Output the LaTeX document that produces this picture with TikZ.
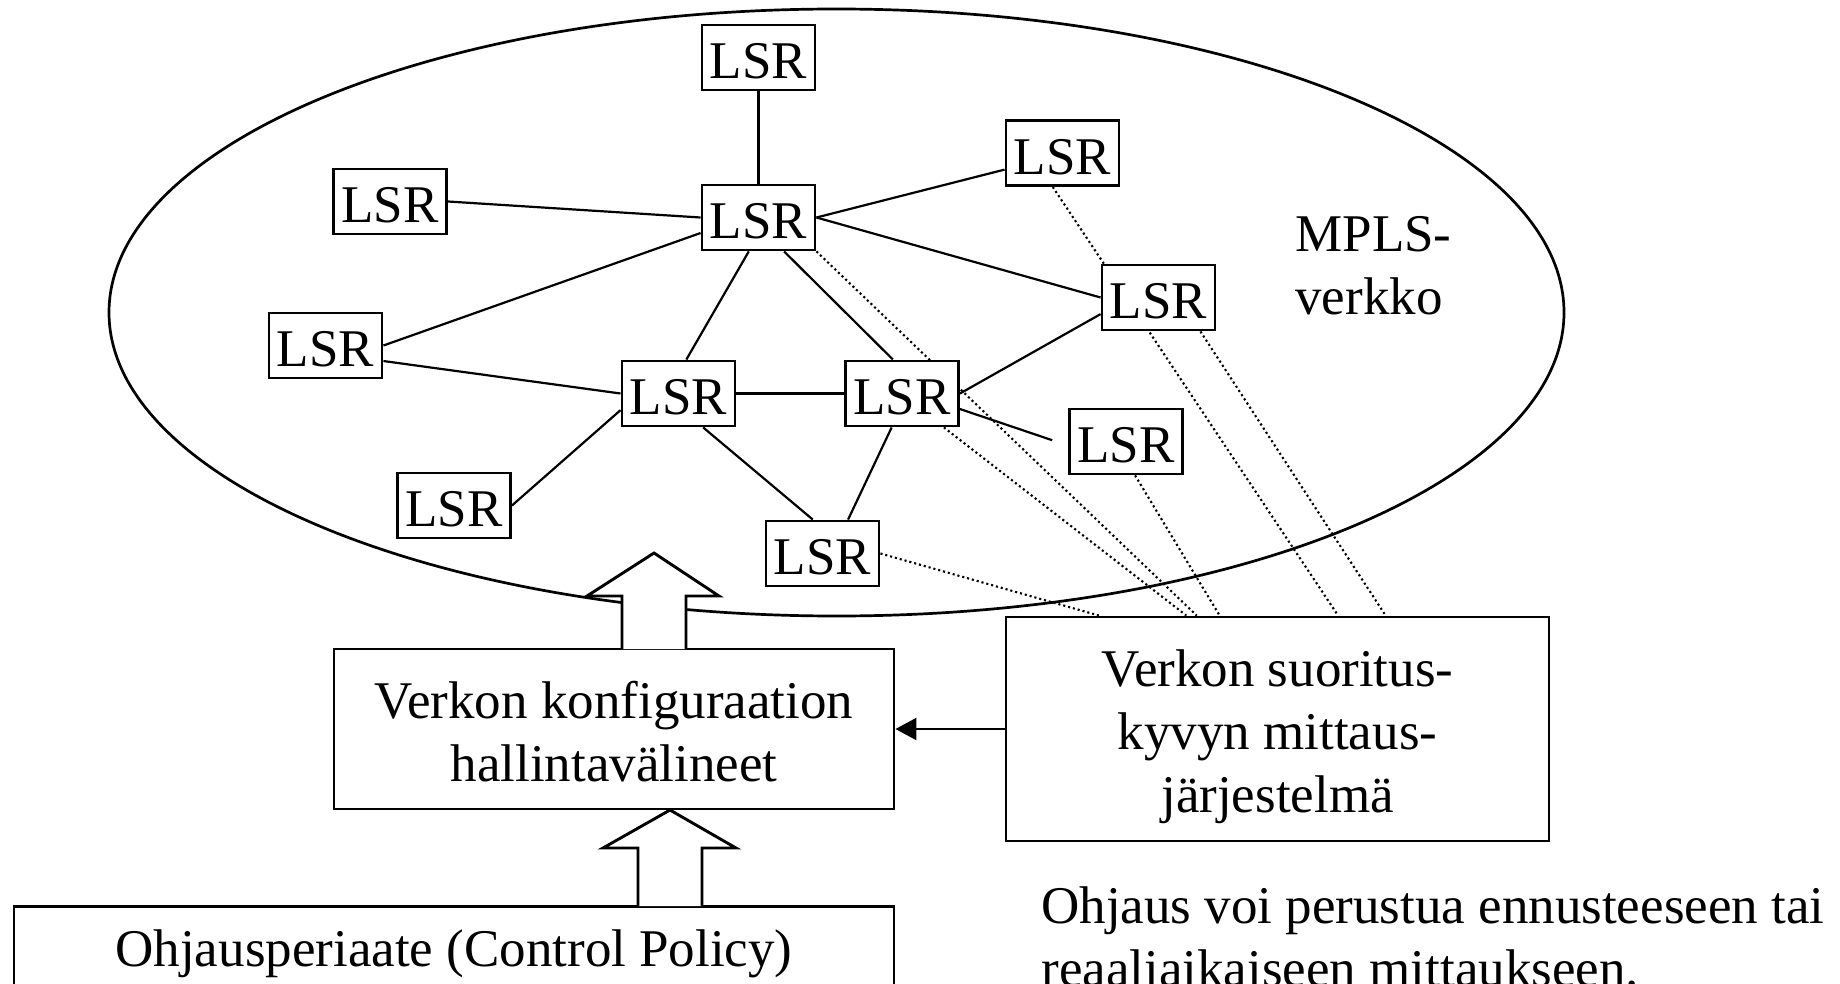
\documentclass[tikz,border=0pt]{standalone}
\usepackage{fontspec}
\setmainfont{Liberation Serif}
\usetikzlibrary{calc,arrows.meta}
\pgfdeclarelayer{background}
\pgfsetlayers{background,main}
% invisible struts that even out the ascent and descent of multi-line labels
\newcommand{\hstrut}{\rule[-0.18em]{0pt}{0.95em}}
\newcommand{\tstrut}{\rule[-0.18em]{0pt}{1.15em}}

\begin{document}
\begin{tikzpicture}[x=0.5pt,y=-0.5pt,
  every node/.style={inner sep=0pt},
  txt/.style={font=\fontsize{26.5pt}{31.5pt}\selectfont},
  lsr/.style={txt,draw,fill=white,line width=1.45pt,minimum width=56.5pt,
    minimum height=32.5pt,text height=21.2pt,text depth=0pt},
  box/.style={txt,draw,fill=white,line width=1.45pt,align=center},
  link/.style={line width=1.1pt},
  probe/.style={line width=1.05pt,dash pattern=on 1.05pt off 1.45pt},
  cloud/.style={line width=1.35pt},
  bigarrow/.style={draw,fill=white,line width=1.45pt,line join=miter},
  feed/.style={line width=1.1pt,-{Triangle[length=10.5pt,width=11pt]}}
]
\useasboundingbox (0,0) rectangle (1840,984);
\clip (0,0) rectangle (1840,984);

% label switch routers
\node[lsr] (rtop) at (758.5,57.5)  {LSR};
\node[lsr] (rhub) at (758.5,217.5) {LSR};
\node[lsr] (rlt)  at (390,201.5)   {LSR};
\node[lsr] (rrt)  at (1062.5,153)  {LSR};
\node[lsr] (rl)   at (325.5,345.5) {LSR};
\node[lsr] (rml)  at (678.5,393.5) {LSR};
\node[lsr] (rmr)  at (902,393.5)   {LSR};
\node[lsr] (rr)   at (1158.5,297.5) {LSR};
\node[lsr] (rrl)  at (1126,441.5)  {LSR};
\node[lsr] (rbl)  at (454,505.5)   {LSR};
\node[lsr] (rb)   at (822.5,553.5) {LSR};

\node[txt,anchor=north west,align=left] (mpls) at (1295,210) {\hstrut MPLS-\\verkko};

% management blocks
\node[box,minimum width=280pt,minimum height=80pt] (cfg) at (614,729)
  {\tstrut Verkon konfiguraation\\hallintavälineet\hstrut};
\node[box,minimum width=271.5pt,minimum height=112pt] (meas) at (1277.5,729)
  {\tstrut Verkon suoritus-\\kyvyn mittaus-\\järjestelmä\hstrut};
\node[txt,draw,fill=white,line width=1.45pt,minimum width=440pt,
  text height=30pt,text depth=30pt,anchor=north] (policy) at (454,905)
  {Ohjausperiaate (Control Policy)};
\node[txt,anchor=north west,align=left] (note) at (1041,882)
  {\hstrut Ohjaus voi perustua ennusteeseen tai\\reaaliaikaiseen mittaukseen.};

% hollow block arrows
\draw[bigarrow] (622,649) -- (622,596) -- (587,596) -- (654,553) -- (719,596)
  -- (686,596) -- (686,649);
\draw[bigarrow] (638,906) -- (638,848) -- (603,848) -- (670,810) -- (736,848)
  -- (702,848) -- (702,906);

\draw[feed] (meas.west) -- (cfg.east);

\begin{pgfonlayer}{background}
  \fill[white] (0,0) rectangle (1840,984);
  \draw[cloud] (836.5,312.5) ellipse [x radius=363.75pt, y radius=151.75pt];
  % physical links
  \draw[link] (rtop) -- (rhub);
  \draw[link] (rlt.east) -- (rhub.west);
  \draw[link] (rl.east) -- (rhub.195);
  \draw[link] (rl.345) -- (rml.west);
  \draw[link] (rhub.254) -- (rml.77);
  \draw[link] (rhub.307) -- (rmr.105);
  \draw[link] (rhub.east) -- (rrt.196);
  \draw[link] (rhub.east) -- (rr.west);
  \draw[link] (rmr.east) -- (rr.196);
  \draw[link] (rml.east) -- (rmr.west);
  \draw[link,shorten >=8.4pt] (rmr.345) -- (rrl.184);
  \draw[link] (rml.196) -- (rbl.east);
  \draw[link] (rml.306) -- (rb.106);
  \draw[link] (rmr.253) -- (rb.53);
  % measurement probes
  \draw[probe] (rb.east)         -- ($(meas.north west)!0.173!(meas.north east)$);
  \draw[probe] (rmr.321)         -- ($(meas.north west)!0.333!(meas.north east)$);
  \draw[probe] (rhub.south east) -- ($(meas.north west)!0.352!(meas.north east)$);
  \draw[probe] (rrl.285)         -- ($(meas.north west)!0.394!(meas.north east)$);
  \draw[probe] (rrt.254)         -- ($(meas.north west)!0.611!(meas.north east)$);
  \draw[probe] (rr.321)          -- ($(meas.north west)!0.698!(meas.north east)$);
\end{pgfonlayer}
\end{tikzpicture}
\end{document}
